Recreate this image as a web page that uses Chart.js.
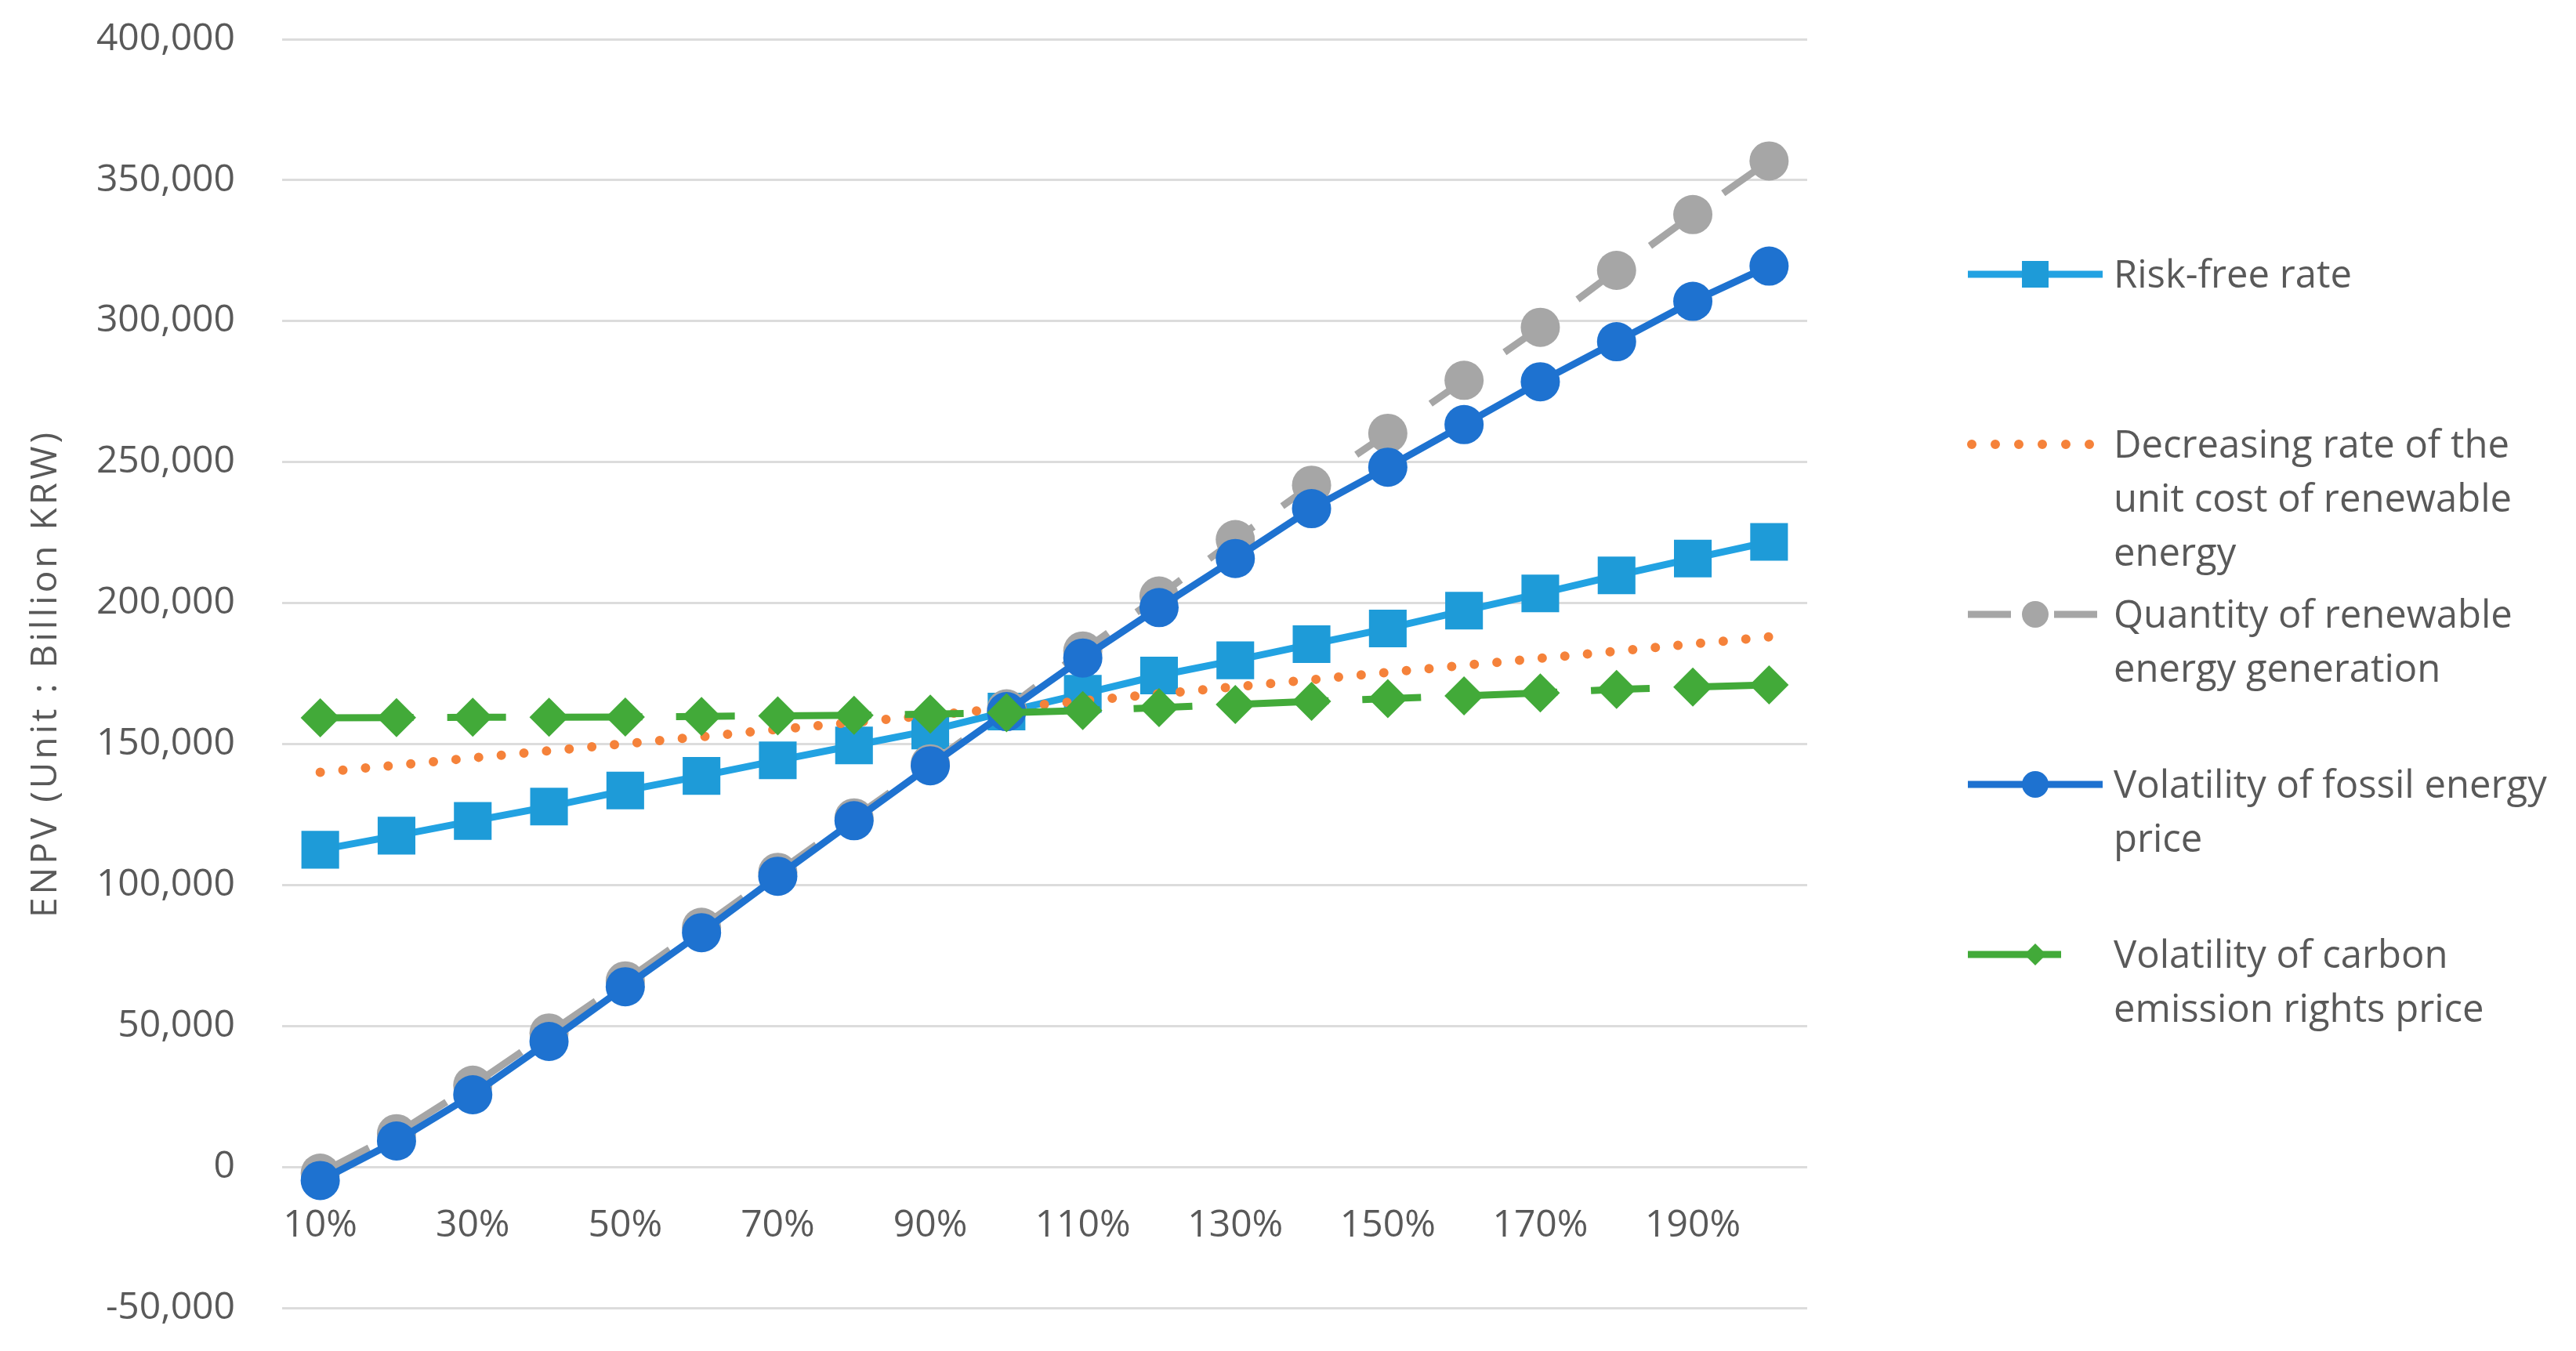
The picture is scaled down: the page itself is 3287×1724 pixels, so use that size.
<!DOCTYPE html>
<html>
<head>
<meta charset="utf-8">
<title>ENPV sensitivity</title>
<script src="https://cdn.jsdelivr.net/npm/chart.js@4.4.0/dist/chart.umd.min.js"></script>
<style>
  html, body { margin: 0; padding: 0; background: #fff; }
  #wrap { width: 3287px; height: 1724px; }
</style>
</head>
<body>
<div id="wrap"><canvas id="chart" width="3287" height="1724"></canvas></div>
<script>
// ENPV sensitivity: each input scaled from 10% to 200% of its base value

const labels = ['10%', '20%', '30%', '40%', '50%', '60%', '70%', '80%', '90%', '100%',
  '110%', '120%', '130%', '140%', '150%', '160%', '170%', '180%', '190%', '200%'];

// y axis ticks (Billion KRW)
const yMin = -50000;
const yMax = 400000;
const yStep = 50000;

const riskFree = [112500, 117500, 122700, 127800, 133500, 138700, 144200, 149500, 154800, 161500,
  167800, 174300, 179700, 185400, 191000, 197300, 203400, 209800, 215800, 221700];
const unitCostDecrease = [140000, 142500, 145100, 147600, 150100, 152600, 155200, 157700, 160200, 162700,
  165300, 167800, 170300, 172800, 175400, 177900, 180400, 182900, 185500, 188000];
const renewableQty = [-2200, 11800, 29000, 47500, 66000, 85000, 104500, 123800, 143000, 162500,
  183000, 202500, 222500, 241800, 260200, 279000, 297800, 318000, 337800, 356800];
const fossilVolatility = [-4800, 9200, 25600, 44500, 63900, 83100, 103100, 122800, 142300, 161500,
  180500, 198400, 215800, 233500, 248200, 263300, 278500, 292700, 307000, 319500];
const carbonVolatility = [159300, 159400, 159500, 159500, 159600, 159800, 160000, 160200, 160600, 161100,
  161900, 162900, 164000, 165100, 166100, 167100, 168100, 169400, 170200, 171000];

const seriesNames = [
  'Risk-free rate',
  'Decreasing rate of the unit cost of renewable energy',
  'Quantity of renewable energy generation',
  'Volatility of fossil energy price',
  'Volatility of carbon emission rights price'
];
// wrapped the way the original legend breaks them
const legendLines = [
  ['Risk-free rate'],
  ['Decreasing rate of the', 'unit cost of renewable', 'energy'],
  ['Quantity of renewable', 'energy generation'],
  ['Volatility of fossil energy', 'price'],
  ['Volatility of carbon', 'emission rights price']
];
const yTitle = 'ENPV (Unit : Billion KRW)';

const TEXT = '#595959';
const FONT = '"Open Sans", "Noto Sans", sans-serif';

// legend sample look (line part is shorter / dash differs from the plot)
const legendSamples = [
  { dash: [], len: 172, marker: 'rect', r: 24 },
  { dash: [0, 30], len: 167, start: 5, marker: null },
  { dash: [55, 55], len: 172, marker: 'circle', r: 17 },
  { dash: [], len: 172, marker: 'circle', r: 17 },
  { dash: [], len: 119, marker: 'rectRot', r: 14 }
];

function drawMarker(ctx, style, x, y, r) {
  ctx.beginPath();
  if (style === 'rect') {
    const s = r * Math.SQRT1_2;
    ctx.rect(x - s, y - s, 2 * s, 2 * s);
  } else if (style === 'rectRot') {
    ctx.moveTo(x - r, y); ctx.lineTo(x, y - r); ctx.lineTo(x + r, y); ctx.lineTo(x, y + r);
    ctx.closePath();
  } else {
    ctx.arc(x, y, r, 0, Math.PI * 2);
  }
  ctx.fill();
}

const sideLegend = {
  id: 'sideLegend',
  afterDraw(chart) {
    const { ctx, chartArea } = chart;
    const lineX = chartArea.right + 205;
    const textX = chartArea.right + 391;
    const firstY = chartArea.top + 300;
    const itemGap = 217;
    const lineGap = 69;
    ctx.save();
    chart.data.datasets.forEach((ds, i) => {
      const s = legendSamples[i];
      const y = firstY + i * itemGap;
      const x0 = lineX + (s.start || 0);
      ctx.strokeStyle = ds.borderColor;
      ctx.lineWidth = ds.borderWidth;
      ctx.lineCap = ds.borderCapStyle || 'butt';
      ctx.setLineDash(s.dash);
      ctx.beginPath();
      ctx.moveTo(x0, y);
      ctx.lineTo(lineX + s.len, y);
      ctx.stroke();
      ctx.setLineDash([]);
      if (s.marker) {
        ctx.fillStyle = ds.pointBackgroundColor;
        drawMarker(ctx, s.marker, lineX + 86, y, s.r);
      }
      ctx.fillStyle = TEXT;
      ctx.font = '49px ' + FONT;
      ctx.textAlign = 'left';
      ctx.textBaseline = 'alphabetic';
      legendLines[i].forEach((t, k) => {
        ctx.fillText(t, textX, y + k * lineGap + 17);
      });
    });
    ctx.restore();
  }
};

const yAxisTitle = {
  id: 'yAxisTitle',
  afterDraw(chart) {
    const { ctx, chartArea } = chart;
    ctx.save();
    ctx.translate(59, (chartArea.top + chartArea.bottom) / 2);
    ctx.rotate(-Math.PI / 2);
    ctx.font = '46px ' + FONT;
    if ('letterSpacing' in ctx) ctx.letterSpacing = '4px';
    ctx.fillStyle = TEXT;
    ctx.textAlign = 'center';
    ctx.textBaseline = 'middle';
    ctx.fillText(yTitle, 0, 0);
    ctx.restore();
  }
};

Chart.defaults.font.family = FONT;
Chart.defaults.color = TEXT;

new Chart(document.getElementById('chart'), {
  type: 'line',
  data: {
    labels: labels,
    datasets: [
      {
        label: seriesNames[0], data: riskFree, order: 5,
        borderColor: '#22A2E2', borderWidth: 9,
        pointStyle: 'rect', pointRadius: 34, pointBorderWidth: 0,
        pointBackgroundColor: '#1E9BD8'
      },
      {
        label: seriesNames[1], data: unitCostDecrease, order: 4,
        borderColor: '#F5823A', borderWidth: 12, borderDash: [0, 29], borderCapStyle: 'round',
        pointRadius: 0
      },
      {
        label: seriesNames[2], data: renewableQty, order: 3,
        borderColor: '#A6A6A6', borderWidth: 9, borderDash: [70, 45],
        pointStyle: 'circle', pointRadius: 25, pointBorderWidth: 0,
        pointBackgroundColor: '#A6A6A6'
      },
      {
        label: seriesNames[3], data: fossilVolatility, order: 2,
        borderColor: '#1E72D0', borderWidth: 9,
        pointStyle: 'circle', pointRadius: 25, pointBorderWidth: 0,
        pointBackgroundColor: '#1E72D0'
      },
      {
        label: seriesNames[4], data: carbonVolatility, order: 1,
        borderColor: '#42AA39', borderWidth: 9, borderDash: [119, 43, 75, 55],
        pointStyle: 'rectRot', pointRadius: 25, pointBorderWidth: 0,
        pointBackgroundColor: '#42AA39'
      }
    ]
  },
  options: {
    responsive: false,
    animation: false,
    devicePixelRatio: 1,
    layout: { padding: { left: 0, right: 981, top: 50, bottom: 55 } },
    plugins: { legend: { display: false }, tooltip: { enabled: false } },
    elements: { line: { tension: 0 } },
    scales: {
      x: {
        type: 'category',
        offset: true,
        position: { y: 0 },
        grid: { display: false },
        border: { display: false },
        ticks: {
          autoSkip: false, maxRotation: 0, padding: 38,
          font: { size: 48 }, color: TEXT,
          callback: (v, i) => (i % 2 === 0 ? labels[i] : '')
        }
      },
      y: {
        min: yMin, max: yMax,
        grid: { color: '#DCDCDC', lineWidth: 3, drawTicks: false },
        border: { display: false },
        ticks: {
          stepSize: yStep, padding: 60,
          font: { size: 48 }, color: TEXT,
          callback: (v) => v.toLocaleString('en-US')
        },
        afterFit: (scale) => {
          // fixed axis width, and let the end labels overhang the outer padding
          scale.width = 360;
          scale.paddingTop = 0;
          scale.paddingBottom = 0;
        }
      }
    }
  },
  plugins: [sideLegend, yAxisTitle]
});
</script>
</body>
</html>
